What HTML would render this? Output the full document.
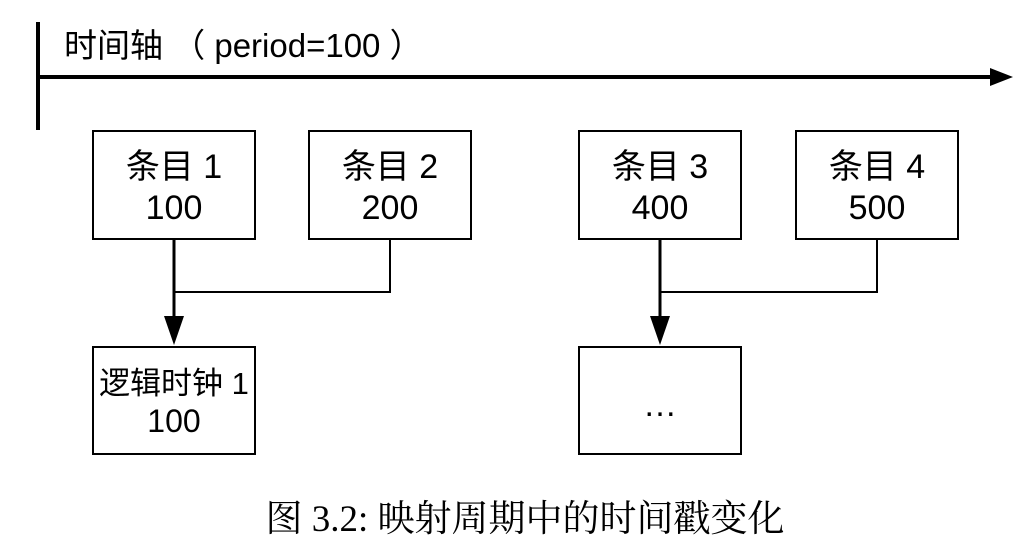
<!DOCTYPE html>
<html><head><meta charset="utf-8"><style>
body{margin:0;background:#fff;}
svg{display:block}
</style></head><body>
<svg width="1019" height="554" viewBox="0 0 1019 554" xmlns="http://www.w3.org/2000/svg">
<g stroke="#000" fill="none">
<line x1="38" y1="22" x2="38" y2="130" stroke-width="4"/>
<line x1="38" y1="77" x2="990" y2="77" stroke-width="4"/>
<rect x="93" y="131" width="162" height="108" stroke-width="2"/>
<rect x="309" y="131" width="162" height="108" stroke-width="2"/>
<rect x="579" y="131" width="162" height="108" stroke-width="2"/>
<rect x="796" y="131" width="162" height="108" stroke-width="2"/>
<rect x="93" y="347" width="162" height="107" stroke-width="2"/>
<rect x="579" y="347" width="162" height="107" stroke-width="2"/>
<polyline points="174,239 174,318" stroke-width="3"/>
<polyline points="390,239 390,292 174,292" stroke-width="2"/>
<polyline points="660,239 660,318" stroke-width="3"/>
<polyline points="877,239 877,292 660,292" stroke-width="2"/>
</g>
<polygon points="990,68 1013,77 990,86" fill="#000"/>
<polygon points="164,316 184,316 174,345" fill="#000"/>
<polygon points="650,316 670,316 660,345" fill="#000"/>
<g font-family="'Liberation Sans','Noto Sans CJK SC',sans-serif" font-size="34" fill="#000" text-anchor="middle">
<text x="64" y="57" text-anchor="start" font-size="33">时间轴 （ period=100 ）</text>
<text x="174" y="178">条目 1</text><text x="174" y="219">100</text>
<text x="390" y="178">条目 2</text><text x="390" y="219">200</text>
<text x="660" y="178">条目 3</text><text x="660" y="219">400</text>
<text x="877" y="178">条目 4</text><text x="877" y="219">500</text>
<text x="174" y="394" font-size="31">逻辑时钟 1</text><text x="174" y="432" font-size="32">100</text>
<text x="660" y="416">…</text>
</g>
<text x="525" y="531" text-anchor="middle" font-family="'Liberation Serif','Noto Serif CJK SC',serif" font-size="37" fill="#000">图 3.2: 映射周期中的时间戳变化</text>
</svg>
</body></html>
